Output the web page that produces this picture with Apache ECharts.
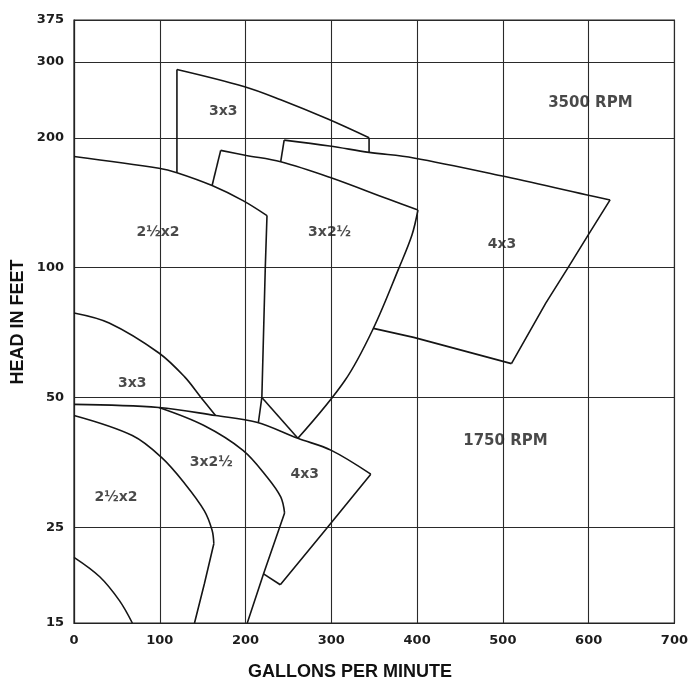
<!DOCTYPE html>
<html>
<head>
<meta charset="utf-8">
<script src="https://cdn.jsdelivr.net/npm/echarts@6/dist/echarts.min.js"></script>
<style>
html,body{margin:0;padding:0;background:#fff;}
#chart{width:691px;height:683px;}
</style>
</head>
<body>
<div id="chart"></div>
<script>
// ---- axis ticks ----
const gpmTicks = [0, 100, 200, 300, 400, 500, 600, 700];
const headTicks = [15, 25, 50, 100, 200, 300, 375];

// ---- 3500 RPM region outlines [gpm, head ft] ----
const p3x3Top3500      = [[120,288],[198,263],[241,245],[296,221],[344,200]];
const p3x3Left3500     = [[120,288],[120,166]];
const p3x3Right3500    = [[344,200],[344,185]];
const p2h2Top3500      = [[0,181],[99,170],[120,166],[161,155],[197,143],[225,132]];
const p2h2Right3500    = [[225,132],[223,100],[219,50],[215,43.8]];
const p3x2hLeft3500    = [[161,155],[171,187]];
const p3x2hTop3500     = [[171,187],[201,182],[241,176],[298,162],[367,144],[401,136]];
const p3x2hRight3500   = [[401,136],[394,119],[379,100],[349,72.3],[316,54.8],[261,40.2]];
const p3x2hBottom3500  = [[219,50],[261,40.2]];
const p4x3Left3500     = [[241,176],[245,197.5]];
const p4x3Top3500      = [[245,197.5],[298,191.4],[344,185],[396,179.6],[498,163.3],[597,147.6],[625,143.5]];
const p4x3Right3500    = [[625,143.5],[599,118.6],[576,100],[550,82.7],[510,59.9]];
const p4x3Bottom3500   = [[510,59.9],[396,68.9],[349,72.3]];

// ---- 1750 RPM region outlines ----
const p3x3Top1750      = [[0,78.5],[41,74.4],[99,63.4],[129,55.8],[148,50],[165,45.4]];
const p4x3Top1750      = [[0,48.2],[99,47.4],[165,45.4],[213,43.8],[261,40.2],[300,37.7],[346,33.2]];
const p4x3Right1750    = [[346,33.2],[293.5,24.7],[240.5,18.4]];
const p4x3Bottom1750   = [[240.5,18.4],[221,19.5]];
const p3x2hCurve1750   = [[99,47.4],[151,43.1],[197,37.7],[225,32.7],[241,29.4],[245.5,27]];
const p3x2hLower1750   = [[245.5,27],[221,19.5],[202,15]];
const p2h2Curve1750    = [[0,45.4],[68,40.8],[102,36.3],[129,31.6],[152,27.3],[161,24.6],[163,22.9]];
const p2h2Lower1750    = [[163,22.9],[152,18.5],[140.5,15]];
const pSmall1750       = [[0,21.3],[30,19.2],[53,16.9],[68,15]];

// ---- region labels ----
const labelTexts = ['3x3','2½x2','3x2½','4x3','3500 RPM','3x3','3x2½','4x3','2½x2','1750 RPM'];
const labelGpm   = [174, 98, 298, 499, 602, 68, 160, 269, 49, 503];
const labelHead  = [230, 121, 121, 113, 240, 53.9, 35.4, 33.2, 29.3, 39.7];
const labelIsRpm = [false, false, false, false, true, false, false, false, false, true];

const curves = [
  [p3x3Top3500, true], [p3x3Left3500, false], [p3x3Right3500, false],
  [p2h2Top3500, true], [p2h2Right3500, false],
  [p3x2hLeft3500, false], [p3x2hTop3500, true], [p3x2hRight3500, true], [p3x2hBottom3500, false],
  [p4x3Left3500, false], [p4x3Top3500, true], [p4x3Right3500, false], [p4x3Bottom3500, false],
  [p3x3Top1750, true], [p4x3Top1750, true], [p4x3Right1750, false], [p4x3Bottom1750, false],
  [p3x2hCurve1750, true], [p3x2hLower1750, false],
  [p2h2Curve1750, true], [p2h2Lower1750, false], [pSmall1750, true]
];

const FONT = 'DejaVu Sans';
const series = curves.map(([pts, smooth]) => ({
  type: 'line',
  data: pts,
  smooth: smooth ? 0.35 : false,
  symbol: 'none',
  silent: true,
  lineStyle: { color: '#151515', width: 1.6 },
  z: 3
}));

series.push({
  type: 'scatter',
  data: labelTexts.map((t, i) => ({
    value: [labelGpm[i], labelHead[i]], name: t,
    label: { fontSize: labelIsRpm[i] ? 15 : 14 }
  })),
  symbolSize: 0,
  silent: true,
  z: 4,
  label: {
    show: true,
    position: 'inside',
    formatter: p => p.name,
    fontFamily: FONT,
    fontWeight: 'bold',
    fontSize: 14,
    color: '#1c1c1c'
  }
});

const chart = echarts.init(document.getElementById('chart'), null, { renderer: 'canvas' });
chart.setOption({
  animation: false,
  backgroundColor: '#fff',
  grid: { left: 74, right: 13, top: 20, bottom: 60, show: true, borderColor: '#222', borderWidth: 1.2, containLabel: false },
  xAxis: {
    type: 'value', min: 0, max: 700, interval: 100,
    axisLine: { show: true, lineStyle: { color: '#222', width: 1.2 } },
    axisTick: { show: false },
    splitLine: { show: true, lineStyle: { color: '#2a2a2a', width: 1.1 } },
    axisLabel: { margin: 11, fontFamily: FONT, fontWeight: 'bold', fontSize: 13, color: '#1c1c1c',
      customValues: gpmTicks }
  },
  yAxis: {
    type: 'log', logBase: 10, min: 15, max: 375,
    axisLine: { show: true, lineStyle: { color: '#222', width: 1.2 } },
    axisTick: { show: false, customValues: headTicks },
    splitLine: { show: true, lineStyle: { color: '#2a2a2a', width: 1.1 } },
    minorSplitLine: { show: false },
    axisLabel: { margin: 10, fontFamily: FONT, fontWeight: 'bold', fontSize: 13, color: '#1c1c1c',
      customValues: headTicks, formatter: v => String(Math.round(v)) }
  },
  graphic: [
    { type: 'text', x: 18, y: 322, rotation: Math.PI / 2,
      style: { text: 'HEAD IN FEET', fontFamily: 'Liberation Sans', fontWeight: 'bold', fontSize: 18,
        fill: '#111', textAlign: 'center', textVerticalAlign: 'middle' } },
    { type: 'text', x: 350, y: 672,
      style: { text: 'GALLONS PER MINUTE', fontFamily: 'Liberation Sans', fontWeight: 'bold', fontSize: 18,
        fill: '#111', textAlign: 'center', textVerticalAlign: 'middle' } }
  ],
  series: series
});
</script>
</body>
</html>
